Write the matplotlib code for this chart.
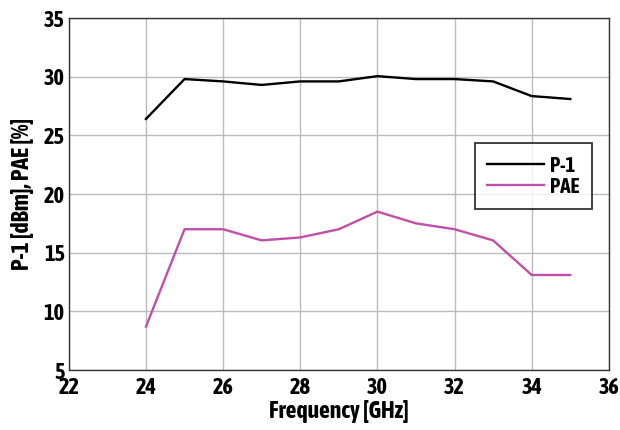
import matplotlib
matplotlib.use("Agg")
import matplotlib.pyplot as plt
from matplotlib import font_manager

freq = [24, 25, 26, 27, 28, 29, 30, 31, 32, 33, 34, 35]
p1 = [26.4, 29.8, 29.6, 29.3, 29.6, 29.6, 30.05, 29.8, 29.8, 29.6, 28.35, 28.1]
pae = [8.7, 17.0, 17.0, 16.05, 16.3, 17.0, 18.5, 17.5, 17.0, 16.05, 13.1, 13.1]
xticks = [22, 24, 26, 28, 30, 32, 34, 36]
yticks = [5, 10, 15, 20, 25, 30, 35]

names = {f.name for f in font_manager.fontManager.ttflist}
fam = [n for n in ['Asap Condensed', 'Barlow Semi Condensed'] if n in names][:1]
plt.rcParams['font.family'] = fam + ['DejaVu Sans']
plt.rcParams['font.weight'] = 'bold'

fig = plt.figure(figsize=(6.2, 4.3), dpi=100)
ax = fig.add_axes([0.111, 0.1395, 0.871, 0.8185])

ax.plot(freq, p1, color='black', lw=1.7, label='P-1', zorder=3)
ax.plot(freq, pae, color='#C04FA8', lw=1.7, label='PAE', zorder=3)

ax.set_xlim(22, 36)
ax.set_ylim(5, 35)
ax.set_xticks(xticks)
ax.set_yticks(yticks)
ax.grid(True, color='#BBBBBB', lw=1.0)
ax.set_axisbelow(True)
ax.tick_params(length=0, labelsize=16)
ax.tick_params(axis='x', pad=5)
ax.tick_params(axis='y', pad=3)
for lab in ax.get_xticklabels() + ax.get_yticklabels():
    lab.set_fontweight('bold')
for s in ax.spines.values():
    s.set_color('#333333')
    s.set_linewidth(1.0)

ax.set_xlabel('Frequency [GHz]', fontsize=17, fontweight='bold', labelpad=1)
ax.set_ylabel('P-1 [dBm], PAE [%]', fontsize=17, fontweight='bold', labelpad=7)

leg = ax.legend(loc='upper left', bbox_to_anchor=(0.752, 0.645), borderaxespad=0,
                frameon=True, fancybox=False, edgecolor='black', fontsize=15,
                handlelength=2.7, borderpad=0.6, labelspacing=0.05, handletextpad=0.3)
leg.get_frame().set_linewidth(1.3)
for t in leg.get_texts():
    t.set_fontweight('bold')

fig.savefig('out.png', dpi=100)
